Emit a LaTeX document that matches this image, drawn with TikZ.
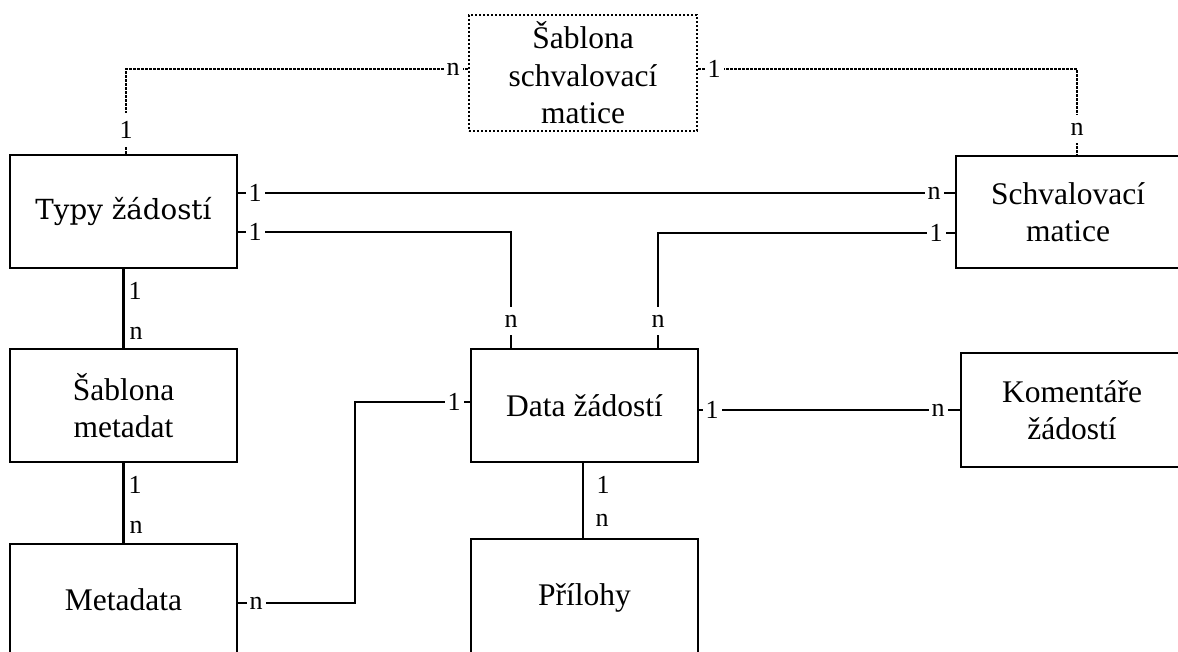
\documentclass[tikz,border=0pt]{standalone}
\usepackage{fontspec}
\setmainfont{Liberation Serif}
\newfontfamily\slabfont{DejaVu Serif}
\begin{document}
\begin{tikzpicture}[x=1pt,y=-1pt,
  entity/.style={draw, line width=2.6pt, align=center, inner sep=0pt,
    font=\fontsize{31.5}{36.5}\selectfont},
  dotbox/.style={dash pattern=on 2.2pt off 1.8pt},
  rel/.style={line width=2.4pt},
  dotrel/.style={line width=2.8pt, dash pattern=on 2.2pt off 1.8pt},
  card/.style={fill=white, inner xsep=3pt, inner ysep=2pt, font=\fontsize{26}{26}\selectfont},
  vcard/.style={fill=white, inner xsep=2pt, inner ysep=8pt, font=\fontsize{26}{26}\selectfont},
  sidecard/.style={inner sep=0pt, font=\fontsize{26}{26}\selectfont}]
\path[use as bounding box, fill=white] (0,0) rectangle (1178,652);

% entities
\node[entity, dotbox, line width=2.8pt, minimum width=228pt, minimum height=116pt,
      font=\fontsize{31.5}{37.5}\selectfont] (tmpl) at (583,73) {Šablona\\schvalovací\\matice};
\node[entity, minimum width=227pt, minimum height=113pt,
      font=\slabfont\fontsize{27.7}{30}\selectfont] (typy) at (123.5,211.5) {Typy žádostí};
\node[entity, minimum width=224pt, minimum height=112pt] (schv) at (1068,212) {Schvalovací\\matice};
\node[entity, minimum width=227pt, minimum height=113pt] (sabm) at (123.5,405.5) {Šablona\\metadat};
\node[entity, minimum width=227pt, minimum height=113pt] (data) at (584.5,405.5) {Data žádostí};
\node[entity, minimum width=222pt, minimum height=114pt] (kom) at (1072,410) {Komentáře\\žádostí};
\node[entity, minimum width=227pt, minimum height=112pt] (meta) at (123.5,600) {Metadata};
\node[entity, minimum width=227pt, minimum height=118pt] (pril) at (584.5,598) {Přílohy};

% bend point of the Metadata -- Data žádostí connector
\coordinate (mx) at (355,402);

% relations
\draw[dotrel] ([xshift=2.5pt]typy.north) |- ([yshift=4pt]tmpl.west);
\draw[dotrel] ([yshift=4pt]tmpl.east) -| ([xshift=9pt]schv.north);
\draw[rel] ([yshift=18.5pt]typy.east) coordinate (ta) -- (ta -| schv.west);
\draw[rel] ([yshift=-20.5pt]typy.east) -| ([xshift=-73.5pt]data.north);
\draw[rel] ([yshift=-21pt]schv.west) -| ([xshift=73.5pt]data.north);
\draw[rel] (typy.south) -- (sabm.north);
\draw[rel] (sabm.south) -- (meta.north);
\draw[rel] ([yshift=-3pt]meta.east) -| (mx) -- (mx -| data.west);
\draw[rel] (kom.west -| data.east) -- (kom.west);
\draw[rel] ([xshift=-1.5pt]data.south) -- ([xshift=-1.5pt]pril.north);

% cardinalities
\node[vcard] (c1) at (126,130) {1};
\node[card] (c2) at (453,69) {n};
\node[card] (c3) at (714,69) {1};
\node[vcard] (c4) at (1077,129) {n};
\node[card] (c5) at (255,193) {1};
\node[card] (c6) at (934,193) {n};
\node[card] (c7) at (255,232) {1};
\node[card] (c9) at (936,233) {1};
\node[vcard] (c8) at (511,321) {n};
\node[vcard] (c10) at (658,321) {n};
\node[sidecard] (c11) at (135,291) {1};
\node[sidecard] (c12) at (136,333) {n};
\node[sidecard] (c13) at (135,485) {1};
\node[sidecard] (c14) at (136,527) {n};
\node[card] (c15) at (256,603) {n};
\node[card] (c16) at (454,402) {1};
\node[card] (c17) at (712,410) {1};
\node[card] (c18) at (938,410) {n};
\node[sidecard] (c19) at (603,485) {1};
\node[sidecard] (c20) at (602,520) {n};
\end{tikzpicture}
\end{document}
